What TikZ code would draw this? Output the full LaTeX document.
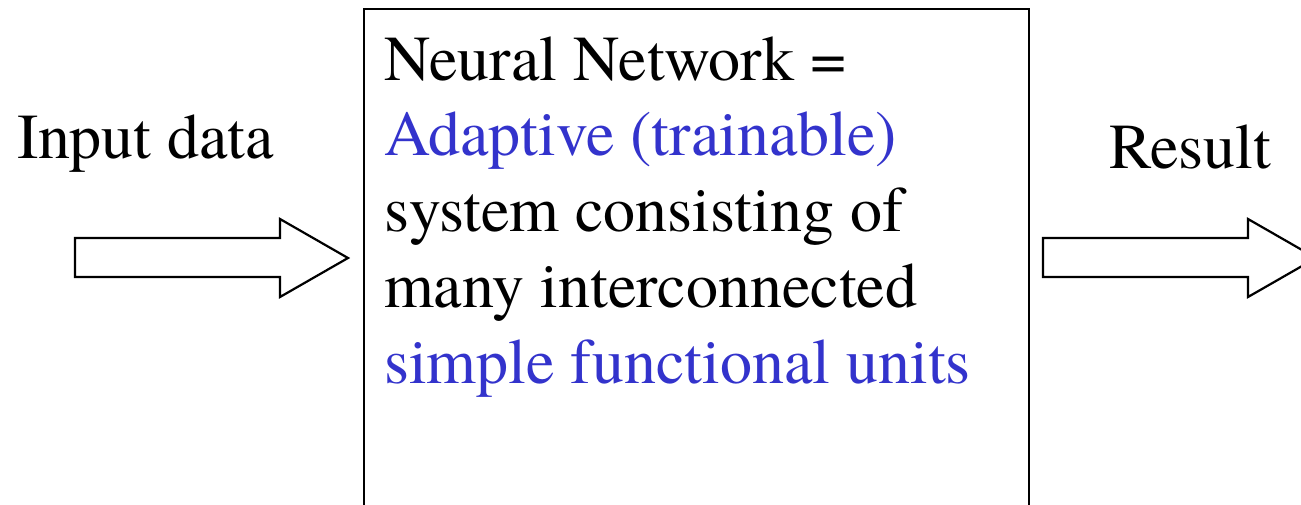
\documentclass[tikz,border=0pt]{standalone}
\usepackage{fontspec}
\setmainfont{TeX Gyre Termes}
\definecolor{accent}{RGB}{51,51,204}
\tikzset{
  label text/.style={anchor=base west, inner sep=0pt, font=\fontsize{64}{76}\selectfont},
  frame/.style={draw=black, line width=2.2pt, fill=white},
  blockarrow/.style={draw=black, line width=2.2pt, fill=white, line join=miter}
}
\begin{document}
\begin{tikzpicture}[x=1pt, y=-1pt]
  \useasboundingbox (0,0) rectangle (1301,504);
  \clip (0,0) rectangle (1301,504);
  \fill[white] (0,0) rectangle (1301,504);

  % central box (continues below the lower edge)
  \node[frame, anchor=north west, minimum width=665pt, minimum height=560pt, inner sep=0pt] (box) at (363,8) {};

  % text inside the box
  \node[label text] (l1) at (384,80) {Neural Network =};
  \node[label text, text=accent] (l2) at (384,155.5) {Adaptive (trainable)};
  \node[label text] (l3) at (384,231.5) {system consisting of};
  \node[label text] (l4) at (384,307.5) {many interconnected};
  \node[label text, text=accent] (l5) at (384,383.5) {simple functional units};

  % side labels
  \node[label text] (inp) at (17,158) {Input data};
  \node[label text] (res) at (1109,168) {Result};

  % input block arrow
  \draw[blockarrow] (75,238) -- (280,238) -- (280,219) -- (348,258) -- (280,297) -- (280,277) -- (75,277) -- cycle;
  % output block arrow
  \draw[blockarrow] (1043,238) -- (1248,238) -- (1248,219) -- (1316,258) -- (1248,297) -- (1248,277) -- (1043,277) -- cycle;
\end{tikzpicture}
\end{document}
